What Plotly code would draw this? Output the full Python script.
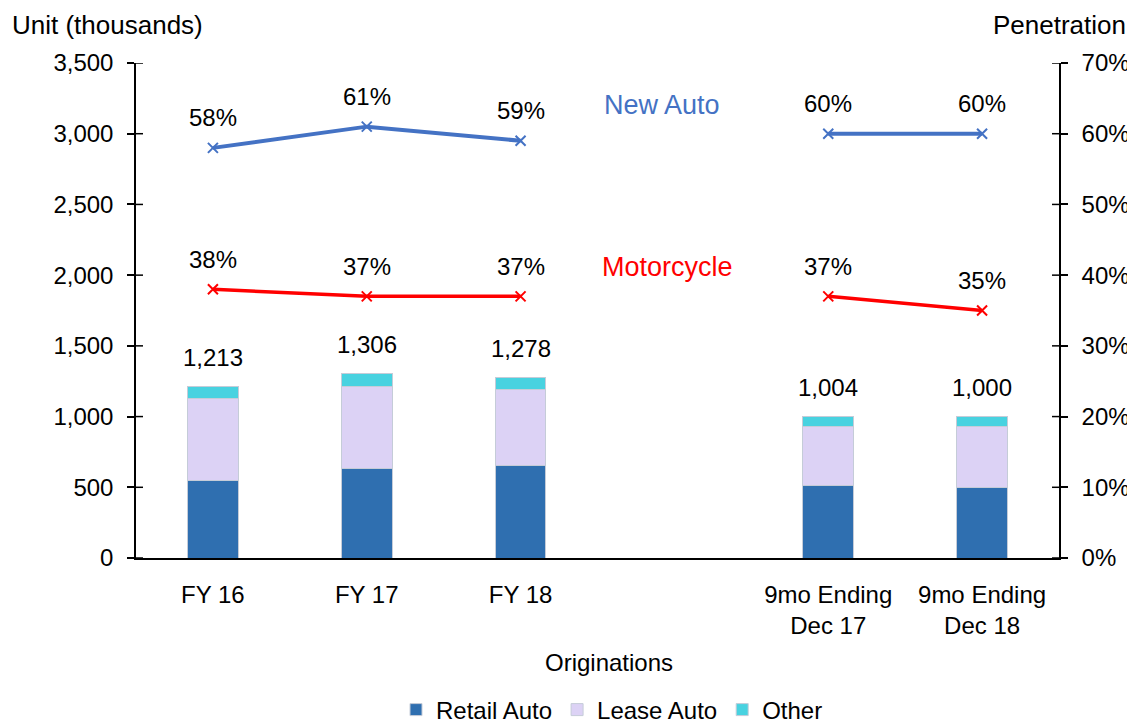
import plotly.graph_objects as go

categories = ["FY 16", "FY 17", "FY 18", " ", "9mo Ending<br>Dec 17", "9mo Ending<br>Dec 18"]
retail_auto = [547, 630, 655, None, 515, 500]
lease_auto = [584, 585, 535, None, 415, 430]
other = [82, 91, 88, None, 74, 70]
totals = [1213, 1306, 1278, None, 1004, 1000]
new_auto_pen = [58, 61, 59, None, 60, 60]
motorcycle_pen = [38, 37, 37, None, 37, 35]
left_ticks = [0, 500, 1000, 1500, 2000, 2500, 3000, 3500]
right_ticks = [0, 10, 20, 30, 40, 50, 60, 70]

FONT = "Liberation Sans, Arial, sans-serif"
C_RETAIL = "#2F6FB0"
C_LEASE = "#DCD2F5"
C_OTHER = "#48D2E0"
C_NEW = "#4472C4"
C_MOTO = "#FF0000"

fig = go.Figure()
for name, vals, col in [("Retail Auto", retail_auto, C_RETAIL),
                        ("Lease Auto", lease_auto, C_LEASE),
                        ("Other", other, C_OTHER)]:
    fig.add_trace(go.Bar(x=categories, y=vals, name=name, marker_color=col,
                         marker_line=dict(color="#C5CCD8", width=1), yaxis="y"))

fig.add_trace(go.Scatter(x=categories, y=new_auto_pen, yaxis="y2", mode="lines+markers",
                         line=dict(color=C_NEW, width=4), showlegend=False,
                         marker=dict(symbol="x-thin", size=10, line=dict(color=C_NEW, width=2))))
fig.add_trace(go.Scatter(x=categories, y=motorcycle_pen, yaxis="y2", mode="lines+markers",
                         line=dict(color=C_MOTO, width=3.5), showlegend=False,
                         marker=dict(symbol="x-thin", size=10, line=dict(color=C_MOTO, width=2))))

ann = []
for c, t in zip(categories, totals):
    if t is not None:
        ann.append(dict(x=c, y=t, xref="x", yref="y", text=f"{t:,}", showarrow=False,
                        yanchor="middle", yshift=29, font=dict(size=24, color="black")))
for series in (new_auto_pen, motorcycle_pen):
    for c, v in zip(categories, series):
        if v is not None:
            ann.append(dict(x=c, y=v, xref="x", yref="y2", text=f"{v}%", showarrow=False,
                            yanchor="middle", yshift=30, font=dict(size=24, color="black")))

ann.append(dict(x=" ", y=64.1, xref="x", yref="y2", text="New Auto", showarrow=False,
                xshift=-12, font=dict(size=27, color=C_NEW)))
ann.append(dict(x=" ", y=41.2, xref="x", yref="y2", text="Motorcycle", showarrow=False,
                xshift=-7, font=dict(size=27, color=C_MOTO)))

# plot area on screen: x 136..1059, y 63..558 (page has an 8px body margin)
W = 923.0
H = 495.0
ann.append(dict(x=(10 - 136) / W, y=(558 - 8) / H, xref="paper", yref="paper",
                text="Unit (thousands)", showarrow=False, xanchor="left", yanchor="top",
                font=dict(size=26, color="black")))
ann.append(dict(x=(1128 - 136) / W, y=(558 - 8) / H, xref="paper", yref="paper",
                text="Penetration", showarrow=False, xanchor="right", yanchor="top",
                font=dict(size=26, color="black")))
ann.append(dict(x=(609 - 136) / W, y=(558 - 662) / H, xref="paper", yref="paper",
                text="Originations", showarrow=False, xanchor="center", yanchor="middle",
                font=dict(size=24, color="black")))

shapes = []
for t in left_ticks:
    shapes.append(dict(type="line", xref="paper", yref="y", x0=0, x1=7 / W, y0=t, y1=t,
                       line=dict(color="black", width=1.5)))
for t in right_ticks:
    shapes.append(dict(type="line", xref="paper", yref="y2", x0=1 - 7 / W, x1=1, y0=t, y1=t,
                       line=dict(color="black", width=1.5)))

fig.update_layout(
    width=1135, height=725,
    margin=dict(l=128, r=84, t=55, b=175, autoexpand=False),
    paper_bgcolor="white", plot_bgcolor="white",
    font=dict(family=FONT, size=24, color="black"),
    barmode="stack", bargap=0.67,
    xaxis=dict(showline=True, linecolor="black", linewidth=1.5, ticks="",
               tickfont=dict(size=24), ticklabelstandoff=14, showgrid=False, zeroline=False),
    yaxis=dict(range=[0, 3500], tickvals=left_ticks, ticktext=[f"{v:,}" for v in left_ticks],
               showline=True, linecolor="black", linewidth=1.5, ticks="outside", ticklen=7,
               tickcolor="black", tickwidth=1.5, showgrid=False, zeroline=False,
               tickfont=dict(size=24), ticklabelstandoff=9),
    yaxis2=dict(range=[0, 70], tickvals=right_ticks, ticktext=[f"{v}%" for v in right_ticks],
                overlaying="y", side="right", showline=True, linecolor="black", linewidth=1.5,
                ticks="outside", ticklen=7, tickcolor="black", tickwidth=1.5, showgrid=False,
                zeroline=False, tickfont=dict(size=24), ticklabelstandoff=9),
    legend=dict(orientation="h", x=(612 - 136) / W, xanchor="center", y=(558 - 710) / H,
                yanchor="middle", font=dict(size=24), itemwidth=30, traceorder="normal"),
    annotations=ann, shapes=shapes,
)

fig.write_html("out.html")
